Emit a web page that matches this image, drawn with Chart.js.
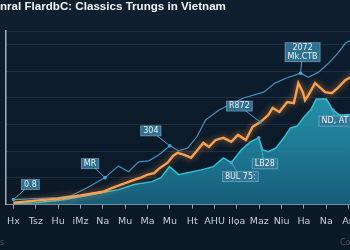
<!DOCTYPE html>
<html>
<head>
<meta charset="utf-8">
<script src="https://cdn.jsdelivr.net/npm/chart.js@4.4.1/dist/chart.umd.min.js"></script>
<style>
  html, body { margin: 0; padding: 0; background: #0c1928; }
  #wrap {
    width: 350px; height: 250px; overflow: hidden; position: relative;
    background: linear-gradient(180deg, #0f1f30 0%, #0c1b2a 45%, #0b1826 100%);
  }
  #myChart { position: absolute; left: 0; top: 0; }
</style>
</head>
<body>
<div id="wrap"><canvas id="myChart" width="370" height="250"></canvas></div>
<script>
var xLabels = ['Hx', 'Tsz', 'Hu', 'iMz', 'Na', 'Mu', 'Ma', 'Mu', 'Ht', 'AHU', 'iIọa', 'Maz', 'Niu', 'Ha', 'Na', 'An'];

var blueX = [0, 1, 2, 2.6, 3.3, 4.1, 4.7, 5.15, 5.6, 6.05, 6.5, 7.0, 7.4, 7.8, 8.2, 8.6, 9.2, 10.3, 11.2, 11.7, 12.2, 12.85, 13.2, 13.65, 14.1, 14.55, 14.85, 15.4];
var blueY = [19, 22, 26, 34, 63, 101, 145, 123, 160, 164, 186, 220, 201, 212, 253, 317, 354, 399, 421, 455, 473, 492, 477, 496, 529, 570, 604, 630];

var orangeX = [0, 1, 2, 3, 4, 4.4, 4.7, 5.0, 5.4, 5.7, 6.0, 6.3, 6.5, 6.9, 7.15, 7.35, 7.65, 7.95, 8.2, 8.5, 8.75, 9.05, 9.4, 9.75, 10.05, 10.4, 10.7, 11.05, 11.4, 11.6, 11.9, 12.25, 12.55, 12.75, 12.95, 13.05, 13.2, 13.5, 13.95, 14.25, 14.55, 14.85, 15.4];
var orangeY = [7, 15, 22, 34, 48, 62, 71, 80, 93, 101, 112, 118, 134, 157, 183, 194, 186, 175, 201, 231, 216, 242, 250, 235, 261, 242, 291, 309, 335, 362, 347, 384, 380, 455, 421, 391, 410, 455, 421, 417, 440, 466, 492];

var tealX = [0, 1, 2, 2.5, 4, 4.7, 5.4, 6.2, 6.6, 6.98, 7.4, 7.8, 8.4, 8.95, 9.4, 9.75, 10.2, 10.6, 10.98, 11.15, 11.4, 11.75, 12.1, 12.4, 12.7, 13.0, 13.3, 13.55, 14.0, 14.3, 14.6, 15.4];
var tealY = [4, 7, 15, 22, 45, 56, 75, 86, 101, 142, 112, 119, 130, 142, 175, 157, 205, 235, 250, 205, 198, 212, 250, 287, 294, 328, 354, 395, 395, 354, 335, 339];

// callout boxes: text, series, point index, box offset from the point
var callouts = [
  { text: ['0.8'], series: 'blue', index: 0, dx: 17, dy: -15 },
  { text: ['MR'], series: 'blue', index: 5, dx: -15, dy: -14 },
  { text: ['304'], series: 'blue', index: 11, dx: -19, dy: -15 },
  { text: ['R872'], series: 'orange', index: 27, dx: -21, dy: -16 },
  { text: ['2072', 'Mk.CTB'], series: 'blue', index: 21, dx: 2, dy: -21 },
  { text: ['ND, AT'], series: 'teal', index: 29, dx: 2, dy: 11 },
  { text: ['LB28'], series: 'teal', index: 18, dx: 6, dy: 26 },
  { text: ['8UL 75:'], series: 'teal', index: 15, dx: 9, dy: 14 }
];

function points(xs, ys) {
  return xs.map(function (x, i) { return { x: x, y: ys[i] }; });
}

var seriesIndex = { orange: 0, blue: 1, teal: 2 };

var glow = {
  id: 'glow',
  beforeDatasetDraw: function (chart, args) {
    if (args.index === 0) {
      chart.ctx.save();
      chart.ctx.shadowColor = 'rgba(255,150,60,0.7)';
      chart.ctx.shadowBlur = 6;
    }
  },
  afterDatasetDraw: function (chart, args) {
    if (args.index === 0) chart.ctx.restore();
  }
};

var extras = {
  id: 'extras',
  afterDatasetsDraw: function (chart) {
    var ctx = chart.ctx;
    ctx.save();
    callouts.forEach(function (c) {
      var el = chart.getDatasetMeta(seriesIndex[c.series]).data[c.index];
      var px = el.x, py = el.y;
      ctx.font = '8px "DejaVu Sans"';
      var w = 0;
      c.text.forEach(function (t) { w = Math.max(w, ctx.measureText(t).width); });
      w += 5;
      var h = c.text.length * 9 + 1;
      var bx = px + c.dx - w / 2, by = py + c.dy - h / 2;
      ctx.strokeStyle = '#4aa2c6';
      ctx.lineWidth = 1;
      ctx.beginPath();
      ctx.moveTo(px, py);
      ctx.lineTo(px + c.dx, py + c.dy);
      ctx.stroke();
      ctx.fillStyle = '#4aa2c6';
      ctx.beginPath();
      ctx.arc(px, py, 1.8, 0, Math.PI * 2);
      ctx.fill();
      ctx.fillStyle = 'rgba(52,118,152,0.92)';
      ctx.fillRect(bx, by, w, h);
      ctx.strokeStyle = 'rgba(150,205,228,0.6)';
      ctx.lineWidth = 0.8;
      ctx.strokeRect(bx, by, w, h);
      ctx.fillStyle = '#e8f3f8';
      ctx.textAlign = 'center';
      ctx.textBaseline = 'middle';
      c.text.forEach(function (t, i) {
        ctx.fillText(t, px + c.dx, by + 5 + i * 9);
      });
    });
    ctx.font = 'bold 11.6px "Liberation Sans"';
    ctx.fillStyle = '#f2f5f8';
    ctx.textAlign = 'left';
    ctx.textBaseline = 'middle';
    ctx.fillText('nral FlardbC: Classics Trungs in Vietnam', 0, 7);
    ctx.font = '8px "DejaVu Sans"';
    ctx.fillStyle = 'rgba(140,160,175,0.45)';
    ctx.fillText('Co', 340, 243);
    ctx.fillText('s', 0, 243);
    ctx.restore();
  }
};

var ctx = document.getElementById('myChart').getContext('2d');
var tealFill = ctx.createLinearGradient(0, 95, 0, 205);
tealFill.addColorStop(0, 'rgba(40,160,185,0.9)');
tealFill.addColorStop(1, 'rgba(24,100,130,0.9)');

var myChart = new Chart(ctx, {
    type: 'line',
    data: {
        datasets: [{
            label: 'Orange',
            data: points(orangeX, orangeY),
            borderColor: '#f5a052',
            borderWidth: 2.4,
            pointRadius: 0,
            order: 0
        }, {
            label: 'Blue',
            data: points(blueX, blueY),
            borderColor: '#3f92c2',
            borderWidth: 1.2,
            pointRadius: 0,
            order: 1
        }, {
            label: 'Teal',
            data: points(tealX, tealY),
            borderColor: '#2cc3d5',
            borderWidth: 1.5,
            backgroundColor: tealFill,
            fill: 'origin',
            pointRadius: 0,
            order: 2
        }]
    },
    options: {
        responsive: false,
        animation: false,
        layout: { padding: { left: 3, right: 12, top: 31, bottom: 16 } },
        plugins: {
            legend: { display: false },
            tooltip: { enabled: false },
            title: { display: false }
        },
        scales: {
            x: {
                type: 'linear',
                min: -0.356,
                max: 15.42,
                afterBuildTicks: function (scale) {
                    scale.ticks = xLabels.map(function (l, i) { return { value: i }; });
                },
                ticks: {
                    autoSkip: false,
                    maxRotation: 0,
                    color: '#c3ced6',
                    font: { family: 'DejaVu Sans', size: 9.5 },
                    padding: 7,
                    callback: function (v) { return xLabels[v]; }
                },
                grid: { drawOnChartArea: false, tickLength: 4, color: '#8ea4b2' },
                border: { color: '#7a95a6', width: 1 }
            },
            y: {
                min: 0,
                max: 650,
                ticks: { display: false, stepSize: 100 },
                grid: { color: 'rgba(95,125,150,0.22)', drawTicks: false },
                border: { color: '#a3aeb8', width: 1.5 }
            }
        }
    },
    plugins: [glow, extras]
});
</script>
</body>
</html>
